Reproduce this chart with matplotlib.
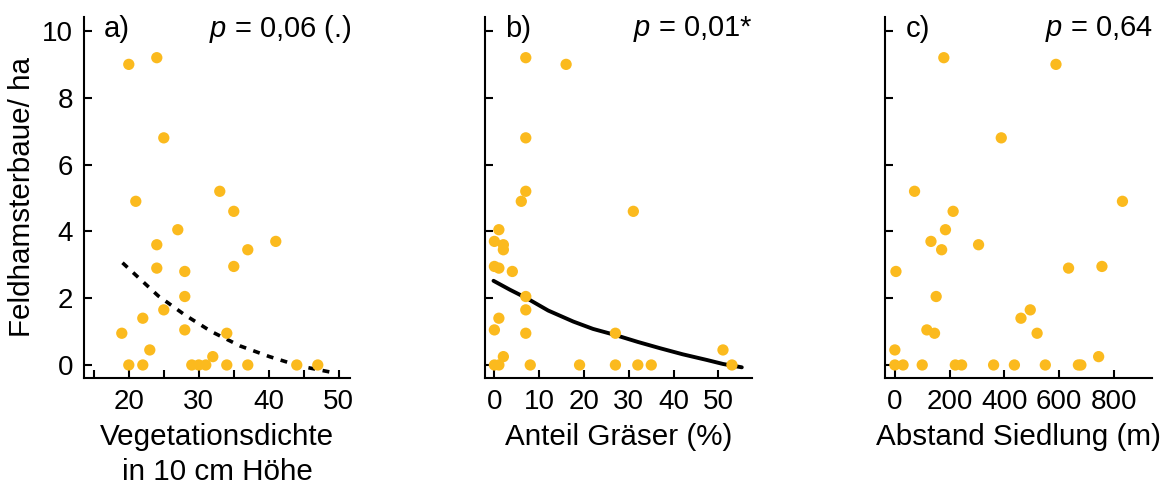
import matplotlib
matplotlib.use('Agg')
import matplotlib.pyplot as plt

plt.rcParams['font.family'] = ['Liberation Sans', 'DejaVu Sans']
plt.rcParams['mathtext.fontset'] = 'custom'
plt.rcParams['mathtext.it'] = 'Liberation Sans:italic'
plt.rcParams['mathtext.rm'] = 'Liberation Sans'

DOT_COLOR = '#FBBA1E'

# a) Vegetationsdichte
veg_x = [20, 24, 25, 21, 33, 35, 27, 24, 41, 37, 24, 28, 35, 28, 25, 22, 19, 28, 34, 23, 32,
         20, 22, 29, 30, 31, 34, 37, 44, 47]
veg_y = [9.0, 9.2, 6.8, 4.9, 5.2, 4.6, 4.05, 3.6, 3.7, 3.45, 2.9, 2.8, 2.95, 2.05, 1.65, 1.4, 0.95, 1.05, 0.95, 0.45, 0.25,
         0, 0, 0, 0, 0, 0, 0, 0, 0]
veg_fit_x = [19.1, 24.2, 28, 31.8, 35.9, 40.1, 44.4, 49.7]
veg_fit_y = [3.06, 2.07, 1.50, 1.0, 0.57, 0.25, -0.03, -0.25]

# b) Anteil Gräser
gras_x = [7, 16, 7, 7, 6, 31, 1, 0, 2, 2, 0, 1, 4, 7, 7, 1, 0, 7, 27, 51, 2,
          0, 1, 8, 19, 27, 32, 35, 53]
gras_y = [9.2, 9.0, 6.8, 5.2, 4.9, 4.6, 4.05, 3.7, 3.6, 3.45, 2.95, 2.9, 2.8, 2.05, 1.65, 1.4, 1.05, 0.95, 0.95, 0.45, 0.25,
          0, 0, 0, 0, 0, 0, 0, 0]
gras_fit_x = [-0.2, 3.5, 7.2, 12, 17.6, 22, 26.9, 32, 37, 42, 47.4, 51, 55.2]
gras_fit_y = [2.52, 2.25, 2.0, 1.63, 1.30, 1.08, 0.90, 0.69, 0.50, 0.32, 0.15, 0.03, -0.07]

# c) Abstand Siedlung
dist_x = [179, 589, 389, 72, 832, 213, 185, 132, 306, 171, 4, 635, 757, 151, 495, 461, 117, 145, 520, 0, 745,
          0, 30, 100, 221, 244, 361, 437, 550, 671, 680]
dist_y = [9.2, 9.0, 6.8, 5.2, 4.9, 4.6, 4.05, 3.7, 3.6, 3.45, 2.8, 2.9, 2.95, 2.05, 1.65, 1.4, 1.05, 0.95, 0.95, 0.45, 0.25,
          0, 0, 0, 0, 0, 0, 0, 0, 0, 0]

y_ticks = [0, 2, 4, 6, 8, 10]

LABEL_SIZE = 21.3


def style_axis(ax, xlim, xticks, xticklabels, show_ylabels):
    for side in ['top', 'right']:
        ax.spines[side].set_visible(False)
    for side in ['left', 'bottom']:
        ax.spines[side].set_linewidth(1.5)
    ax.set_xlim(*xlim)
    ax.set_ylim(-0.39, 10.42)
    ax.set_xticks(xticks)
    ax.set_xticklabels(xticklabels)
    ax.set_yticks(y_ticks)
    if not show_ylabels:
        ax.set_yticklabels([])
    ax.tick_params(direction='in', length=6, width=1.5, labelsize=20, pad=8)


fig = plt.figure(figsize=(11.65, 4.84), dpi=100)
ax_a = fig.add_axes([0.0721, 0.219, 0.2283, 0.746])
ax_b = fig.add_axes([0.4163, 0.219, 0.2289, 0.746])
ax_c = fig.add_axes([0.7599, 0.219, 0.2287, 0.746])

ax_a.scatter(veg_x, veg_y, s=66, color=DOT_COLOR, edgecolors='none', zorder=3)
ax_a.plot(veg_fit_x, veg_fit_y, color='black', lw=2.6, dashes=(1.9, 2.1), zorder=2)
style_axis(ax_a, (13.6, 51.6), [15, 20, 25, 30, 35, 40, 45, 50],
           ['', '20', '', '30', '', '40', '', '50'], True)
ax_a.set_ylabel('Feldhamsterbaue/ ha', fontsize=LABEL_SIZE, labelpad=4)
ax_a.set_xlabel('Vegetationsdichte\nin 10 cm Höhe', fontsize=LABEL_SIZE, labelpad=6, linespacing=1.3)

ax_b.scatter(gras_x, gras_y, s=66, color=DOT_COLOR, edgecolors='none', zorder=3)
ax_b.plot(gras_fit_x, gras_fit_y, color='black', lw=2.8, solid_capstyle='round', zorder=2)
style_axis(ax_b, (-2.1, 57.4), [0, 10, 20, 30, 40, 50],
           ['0', '10', '20', '30', '40', '50'], False)
ax_b.set_xlabel('Anteil Gräser (%)', fontsize=LABEL_SIZE, labelpad=6)

ax_c.scatter(dist_x, dist_y, s=66, color=DOT_COLOR, edgecolors='none', zorder=3)
style_axis(ax_c, (-35, 939), [0, 200, 400, 600, 800],
           ['0', '200', '400', '600', '800'], False)
ax_c.set_xlabel('Abstand Siedlung (m)', fontsize=LABEL_SIZE, labelpad=6)

panel_tags = ['a)', 'b)', 'c)']
p_texts = ['$p$ = 0,06 (.)', '$p$ = 0,01*', '$p$ = 0,64']
for ax, tag, ptxt in zip([ax_a, ax_b, ax_c], panel_tags, p_texts):
    ax.text(0.075, 10.05, tag, transform=ax.get_yaxis_transform(), fontsize=21,
            ha='left', va='center')
    ax.text(1.005, 10.05, ptxt, transform=ax.get_yaxis_transform(), fontsize=21,
            ha='right', va='center')

fig.savefig('out.png', dpi=100)
